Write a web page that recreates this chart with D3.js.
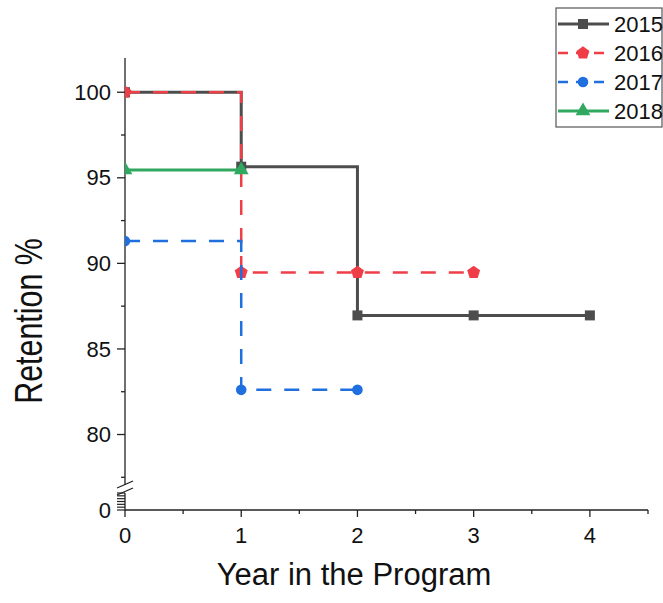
<!DOCTYPE html>
<html>
<head>
<meta charset="utf-8">
<script src="https://cdn.jsdelivr.net/npm/d3@7"></script>
<style>
  body { margin: 0; background: #fff; }
  svg { display: block; font-family: "Liberation Sans", Arial, sans-serif; }
</style>
</head>
<body>
<svg id="chart" width="663" height="603"></svg>
<script>
// 数据
var years = [0, 1, 2, 3, 4];
var seriesNames = ["2015", "2016", "2017", "2018"];
var ret2015 = [100, 95.65, 86.96, 86.96, 86.96];
var ret2016 = [100, 89.47, 89.47, 89.47];
var ret2017 = [91.30, 82.61, 82.61];
var ret2018 = [95.45, 95.45];
var xTickLabels = [0, 1, 2, 3, 4];
var yTickLabels = [80, 85, 90, 95, 100];

var colors = ["#4d4d4d", "#ef3e47", "#1f6fdf", "#30a860"];
var dashes = [null, "15,13", "15,13", null];
var widths = [3, 2.5, 2.5, 3];
var shapes = ["square", "pentagon", "circle", "triangle"];

var svg = d3.select("#chart");

// 坐标比例尺
var x = d3.scaleLinear().domain([0, 4.5]).range([125, 648]);
var y = d3.scaleLinear().domain([77.05, 102]).range([485, 58]); // 上半段
var yLow = d3.scaleLinear().domain([0, 15]).range([510, 493]);  // 断轴下半段

// 裁剪区域
svg.append("defs").append("clipPath").attr("id", "plotClip")
  .append("rect").attr("x", 125).attr("y", 40).attr("width", 540).attr("height", 480);

// x 轴
var xAxis = svg.append("g").attr("transform", "translate(0,510)");
xAxis.append("line").attr("x1", 125).attr("x2", x(4.5)).attr("stroke", "#222").attr("stroke-width", 1.3);
xAxis.selectAll(".xmaj").data(xTickLabels).enter().append("line")
  .attr("x1", function(d) { return x(d); }).attr("x2", function(d) { return x(d); })
  .attr("y1", 0).attr("y2", 7).attr("stroke", "#222").attr("stroke-width", 1.3);
xAxis.selectAll(".xmin").data(d3.range(0.5, 4.6, 1)).enter().append("line")
  .attr("x1", function(d) { return x(d); }).attr("x2", function(d) { return x(d); })
  .attr("y1", 0).attr("y2", 4).attr("stroke", "#222").attr("stroke-width", 1.3);
xAxis.selectAll("text").data(xTickLabels).enter().append("text")
  .attr("x", function(d) { return x(d); }).attr("y", 33)
  .attr("text-anchor", "middle").attr("font-size", 22).attr("fill", "#111")
  .text(function(d) { return d; });

// y 轴 上半段
var yAxis = svg.append("g");
yAxis.append("line").attr("x1", 125).attr("x2", 125).attr("y1", y(102)).attr("y2", y(77.05))
  .attr("stroke", "#222").attr("stroke-width", 1.3);
yAxis.selectAll(".ymaj").data(yTickLabels).enter().append("line")
  .attr("x1", 117).attr("x2", 125)
  .attr("y1", function(d) { return y(d); }).attr("y2", function(d) { return y(d); })
  .attr("stroke", "#222").attr("stroke-width", 1.3);
yAxis.selectAll(".ymin").data([77.5, 82.5, 87.5, 92.5, 97.5]).enter().append("line")
  .attr("x1", 121).attr("x2", 125)
  .attr("y1", function(d) { return y(d); }).attr("y2", function(d) { return y(d); })
  .attr("stroke", "#222").attr("stroke-width", 1.3);
yAxis.selectAll(".ylab").data(yTickLabels).enter().append("text")
  .attr("x", 111).attr("y", function(d) { return y(d); }).attr("dy", "0.35em")
  .attr("text-anchor", "end").attr("font-size", 22).attr("fill", "#111")
  .text(function(d) { return d; });

// y 轴 下半段
yAxis.append("line").attr("x1", 125).attr("x2", 125).attr("y1", yLow(15)).attr("y2", yLow(0))
  .attr("stroke", "#222").attr("stroke-width", 1.3);
yAxis.selectAll(".ylow").data(d3.range(0, 15.1, 2.5)).enter().append("line")
  .attr("x1", 117).attr("x2", 125)
  .attr("y1", function(d) { return yLow(d); }).attr("y2", function(d) { return yLow(d); })
  .attr("stroke", "#222").attr("stroke-width", 1.2);
yAxis.append("text").attr("x", 111).attr("y", yLow(0)).attr("dy", "0.35em")
  .attr("text-anchor", "end").attr("font-size", 22).attr("fill", "#111").text("0");

// 断轴标记
[0, 7].forEach(function(off) {
  yAxis.append("line").attr("x1", 117).attr("y1", 488 + off).attr("x2", 133).attr("y2", 481 + off)
    .attr("stroke", "#222").attr("stroke-width", 1.3);
});

// 坐标轴标题
svg.append("text").attr("transform", "translate(42,321) rotate(-90) scale(0.8,1)")
  .attr("text-anchor", "middle").attr("font-size", 38).attr("fill", "#111").text("Retention %");
svg.append("text").attr("x", 354).attr("y", 585)
  .attr("text-anchor", "middle").attr("font-size", 31).attr("fill", "#111").text("Year in the Program");

// 标记形状
function pentagon(r) {
  var pts = d3.range(5).map(function(k) {
    var a = -Math.PI / 2 + k * 2 * Math.PI / 5;
    return [r * Math.cos(a), r * Math.sin(a)];
  });
  return "M" + pts.join("L") + "Z";
}
function markerPath(shape) {
  if (shape === "square") return d3.symbol(d3.symbolSquare, 100)();
  if (shape === "circle") return d3.symbol(d3.symbolCircle, 88)();
  if (shape === "triangle") return d3.symbol(d3.symbolTriangle, 95)();
  return pentagon(6.8);
}

// 折线 (阶梯)
var line = d3.line()
  .x(function(d) { return x(d[0]); })
  .y(function(d) { return y(d[1]); })
  .curve(d3.curveStepAfter);

var allSeries = [ret2015, ret2016, ret2017, ret2018];
var plot = svg.append("g").attr("clip-path", "url(#plotClip)");

allSeries.forEach(function(vals, i) {
  var pts = vals.map(function(v, j) { return [years[j], v]; });
  var g = plot.append("g");
  g.append("path").datum(pts)
    .attr("d", line)
    .attr("fill", "none")
    .attr("stroke", colors[i])
    .attr("stroke-width", widths[i])
    .attr("stroke-dasharray", dashes[i]);
  g.selectAll("path.mk").data(pts).enter().append("path")
    .attr("class", "mk")
    .attr("transform", function(d) { return "translate(" + x(d[0]) + "," + y(d[1]) + ")"; })
    .attr("d", markerPath(shapes[i]))
    .attr("fill", colors[i]);
});

// 图例
var legend = svg.append("g");
legend.append("rect").attr("x", 556).attr("y", 8).attr("width", 106).attr("height", 119)
  .attr("fill", "#fff").attr("stroke", "#555").attr("stroke-width", 1.2);
seriesNames.forEach(function(name, i) {
  var ly = 24 + i * 29;
  legend.append("line").attr("x1", 558).attr("x2", 609).attr("y1", ly).attr("y2", ly)
    .attr("stroke", colors[i]).attr("stroke-width", widths[i])
    .attr("stroke-dasharray", dashes[i] ? "10,8" : null);
  legend.append("path").attr("transform", "translate(583," + ly + ")")
    .attr("d", markerPath(shapes[i])).attr("fill", colors[i]);
  legend.append("text").attr("x", 614).attr("y", ly).attr("dy", "0.36em")
    .attr("font-size", 22).attr("fill", "#111").text(name);
});
</script>
</body>
</html>
